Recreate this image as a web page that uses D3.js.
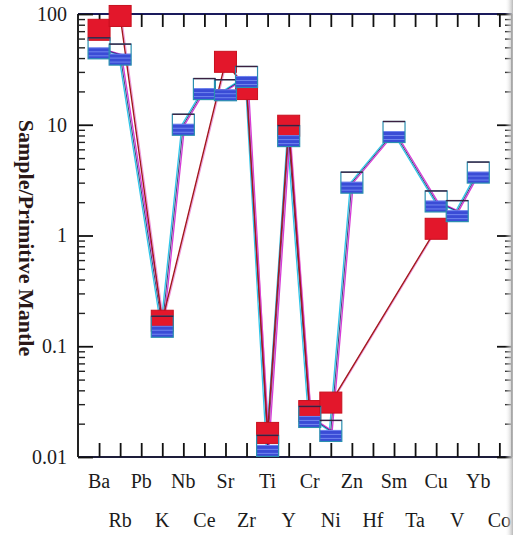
<!DOCTYPE html>
<html>
<head>
<meta charset="utf-8">
<script src="https://cdn.jsdelivr.net/npm/d3@7/dist/d3.min.js"></script>
<style>
  html, body { margin: 0; padding: 0; background: #fff; }
  svg { display: block; }
</style>
</head>
<body>
<svg id="chart" width="513" height="535"></svg>
<script>
// Trace elements in spider-diagram order
const elements = ["Ba","Rb","Pb","K","Nb","Ce","Sr","Zr","Ti","Y",
                  "Cr","Ni","Zn","Hf","Sm","Ta","Cu","V","Yb","Co"];

// Sample / primitive mantle ratios (null = not analysed)
const redSample  = [72, 96, null, 0.17, null, null, 37, 21, 0.0165, 9.8,
                    0.026, 0.031, null, null, null, null, 1.15, null, null, null];
const blueSample = [49, 43, null, 0.15, 10, 21, 20.5, 27, 0.0126, 7.9,
                    0.023, 0.0172, 3.0, null, 8.6, null, 2.03, 1.66, 3.7, null];

const yTickValues = [0.01, 0.1, 1, 10, 100];
const yTickLabels = ["0.01", "0.1", "1", "10", "100"];

(function draw() {
  const svg = d3.select("#chart");
  const W = 513, H = 535;
  const plotL = 78, plotR = 512, plotT = 14, plotB = 457;

  const x = d3.scaleLinear().domain([-1, 19.6]).range([plotL, plotR]);
  const y = d3.scaleLog().domain([0.01, 100]).range([plotB, plotT]);

  const serif = "'Liberation Serif', 'Times New Roman', Times, serif";

  // stripe fill for the half-filled squares
  const defs = svg.append("defs");
  const pat = defs.append("pattern").attr("id", "blueStripe")
    .attr("patternUnits", "userSpaceOnUse").attr("width", 6).attr("height", 4);
  pat.append("rect").attr("width", 6).attr("height", 4).attr("fill", "#3a4cd6");
  pat.append("rect").attr("y", 3).attr("width", 6).attr("height", 1).attr("fill", "#6f84ee");
  const grad = defs.append("linearGradient").attr("id", "edgeShade")
    .attr("x1", "0").attr("x2", "1").attr("y1", "0").attr("y2", "0");
  grad.append("stop").attr("offset", "0").attr("stop-color", "#ffffff").attr("stop-opacity", 0);
  grad.append("stop").attr("offset", "1").attr("stop-color", "#b8b8b8").attr("stop-opacity", 1);

  // ---- axes ----
  const idx = d3.range(elements.length);

  // bottom axis: ticks pointing up, no labels
  svg.append("g").attr("transform", `translate(0,${plotB})`)
    .call(d3.axisBottom(x).tickValues(idx).tickSizeInner(-14).tickSizeOuter(0).tickFormat(""))
    .call(g => g.select(".domain").attr("stroke", "#1d1d3a").attr("stroke-width", 2).attr("d", `M${plotL},0H${plotR}`))
    .call(g => g.selectAll(".tick line").attr("stroke", "#111").attr("stroke-width", 1.8));

  // top axis: ticks pointing down
  svg.append("g").attr("transform", `translate(0,${plotT})`)
    .call(d3.axisTop(x).tickValues(idx).tickSizeInner(-13).tickSizeOuter(0).tickFormat(""))
    .call(g => g.select(".domain").attr("stroke", "#1a1a5c").attr("stroke-width", 2.2).attr("d", `M${plotL},0H${plotR}`))
    .call(g => g.selectAll(".tick line").attr("stroke", "#111").attr("stroke-width", 1.8));

  // minor log ticks
  const minor = [];
  [0.01, 0.1, 1, 10].forEach(d => { for (let m = 2; m <= 9; m++) minor.push(d * m); });

  function yAxis(gx, orient) {
    svg.append("g").attr("transform", `translate(${gx},0)`)
      .call(orient(y).tickValues(minor).tickSizeInner(-7).tickSizeOuter(0).tickFormat(""))
      .call(s => s.select(".domain").remove())
      .call(s => s.selectAll(".tick line").attr("stroke", "#222").attr("stroke-width", 1.4));
    svg.append("g").attr("transform", `translate(${gx},0)`)
      .call(orient(y).tickValues(yTickValues).tickSizeInner(-15).tickSizeOuter(0).tickFormat(""))
      .call(s => s.select(".domain").attr("stroke", "#222").attr("stroke-width", 2).attr("d", `M0,${plotT}V${plotB}`))
      .call(s => s.selectAll(".tick line").attr("stroke", "#111").attr("stroke-width", 1.8));
  }
  yAxis(plotL, d3.axisLeft);
  yAxis(plotR, d3.axisRight);

  // y tick labels
  svg.append("g").selectAll("text").data(yTickValues).join("text")
    .attr("x", 67).attr("y", d => y(d)).attr("dy", "0.34em")
    .attr("text-anchor", "end")
    .attr("font-family", serif).attr("font-size", 20).attr("fill", "#1b1b1b")
    .text((d, i) => yTickLabels[i]);

  // element labels in two staggered rows
  svg.append("g").selectAll("text").data(elements).join("text")
    .attr("x", (d, i) => x(i)).attr("y", (d, i) => i % 2 === 0 ? 488 : 527)
    .attr("text-anchor", "middle")
    .attr("font-family", serif).attr("font-size", 20).attr("fill", "#1b1b1b")
    .text(d => d);

  // axis title
  svg.append("text")
    .attr("transform", `translate(19,238) rotate(90)`)
    .attr("text-anchor", "middle")
    .attr("font-family", serif).attr("font-weight", "bold").attr("font-size", 22)
    .attr("fill", "#2a1818")
    .text("Sample/Primitive Mantle");

  // ---- series ----
  const pts = arr => arr.map((v, i) => ({ i, v })).filter(d => d.v != null);
  const line = d3.line().x(d => x(d.i)).y(d => y(d.v));
  const bluePts = pts(blueSample), redPts = pts(redSample);

  const lines = svg.append("g").attr("fill", "none");
  // blue sample line with colour fringes
  lines.append("path").attr("d", line(bluePts)).attr("stroke", "#2fc6ea").attr("stroke-width", 1.3)
    .attr("transform", "translate(-1.4,0)");
  lines.append("path").attr("d", line(bluePts)).attr("stroke", "#d63ad8").attr("stroke-width", 1.3)
    .attr("transform", "translate(1.4,0)");
  lines.append("path").attr("d", line(bluePts)).attr("stroke", "#2a2a66").attr("stroke-width", 0.9);
  // red sample line
  lines.append("path").attr("d", line(redPts)).attr("stroke", "#e050c8").attr("stroke-width", 1)
    .attr("opacity", 0.6).attr("transform", "translate(1.3,0)");
  lines.append("path").attr("d", line(redPts)).attr("stroke", "#a3161c").attr("stroke-width", 1.4);

  const mw = 22, mh = 21;
  // red filled squares
  svg.append("g").selectAll("rect").data(redPts).join("rect")
    .attr("x", d => x(d.i) - mw / 2).attr("y", d => y(d.v) - mh / 2)
    .attr("width", mw).attr("height", mh)
    .attr("fill", "#e3172b").attr("stroke", "#c8101e").attr("stroke-width", 1);

  // half-filled squares: open top, striped blue bottom
  const hs = svg.append("g").selectAll("g").data(bluePts).join("g")
    .attr("transform", d => `translate(${x(d.i)},${y(d.v)})`);
  hs.append("rect").attr("x", -mw / 2).attr("y", -1).attr("width", mw).attr("height", mh / 2 + 1)
    .attr("fill", "url(#blueStripe)");
  hs.append("rect").attr("x", -mw / 2).attr("y", -mh / 2).attr("width", mw).attr("height", mh)
    .attr("fill", "none").attr("stroke", "#2a8fb0").attr("stroke-width", 1.2);
  hs.append("line").attr("x1", -mw / 2).attr("x2", mw / 2).attr("y1", -mh / 2).attr("y2", -mh / 2)
    .attr("stroke", "#3a2040").attr("stroke-width", 1.4);

  // shaded page edge on the right
  svg.append("rect").attr("x", 505).attr("y", 0).attr("width", 8).attr("height", H)
    .attr("fill", "url(#edgeShade)");
})();
</script>
</body>
</html>
